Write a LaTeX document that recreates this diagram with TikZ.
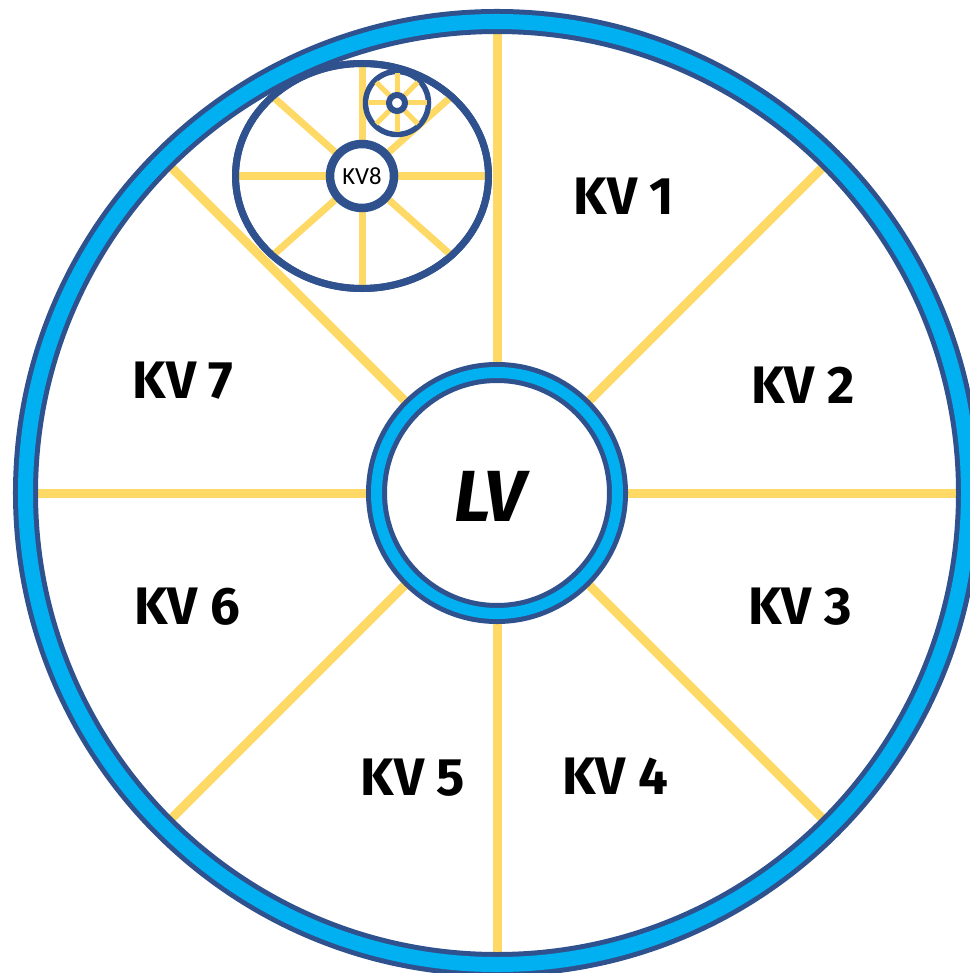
\documentclass[tikz,border=0pt]{standalone}
\usepackage{fontspec}
\setmainfont{Fira Sans}
\newfontfamily\smallfont{Carlito}
\usetikzlibrary{calc}
\definecolor{RingDark}{RGB}{47,82,143}
\definecolor{RingLight}{RGB}{0,176,240}
\definecolor{SpokeClr}{RGB}{255,217,102}

\begin{document}
\begin{tikzpicture}[x=0.01cm,y=-0.01cm,
  spoke/.style={SpokeClr,line width=0.9mm},
  midspoke/.style={SpokeClr,line width=0.7mm},
  tinyspoke/.style={SpokeClr,line width=0.5mm},
  kvlabel/.style={font=\bfseries\fontsize{15}{18}\selectfont}]
\useasboundingbox (0,0) rectangle (970,973);
\clip (0,0) rectangle (970,973);

\coordinate (O) at (497,493);
\coordinate (E) at (362,176);
\coordinate (S) at (397,103);

% spokes of the wheel
\foreach \a in {0,45,...,315}
  \draw[spoke] ($(O)+(\a:125)$) -- ($(O)+(\a:465)$);

% outer ring
\draw[RingDark,line width=2.5mm] (O) circle (471.5);
\draw[RingLight,line width=1.5mm] (O) circle (471.5);

% hub
\draw[RingDark,line width=2.1mm,fill=white] (O) circle (120.5);
\draw[RingLight,line width=1.1mm] (O) circle (120.5);
\node[font=\bfseries\itshape\fontsize{20.6}{24}\selectfont] (lv) at (490,496) {LV};

% zoomed wheel
\draw[RingDark,line width=0.7mm,fill=white] (E) ellipse [x radius=126.5,y radius=112.5];
\foreach \a in {0,45,...,315}
  \draw[midspoke] (E) -- ($(E)+({126.5*cos(\a)},{112.5*sin(\a)})$);
\draw[RingDark,line width=0.7mm] (E) ellipse [x radius=126.5,y radius=112.5];
\draw[RingDark,line width=0.85mm,fill=white] (E) circle (32);
\node[font=\smallfont\fontsize{7}{8}\selectfont] (kv8) at (E) {KV8};

% smallest wheel
\draw[RingDark,line width=0.55mm,fill=white] (S) circle (31.5);
\foreach \a in {0,45,...,315}
  \draw[tinyspoke] (S) -- ++(\a:29.5);
\draw[RingDark,line width=0.6mm,fill=white] (S) circle (8);

% labels
\node[kvlabel] (kv1) at (624,196) {KV 1};
\node[kvlabel] (kv2) at (803,385) {KV 2};
\node[kvlabel] (kv3) at (800,607) {KV 3};
\node[kvlabel] (kv4) at (615,776) {KV 4};
\node[kvlabel] (kv5) at (413,778) {KV 5};
\node[kvlabel] (kv6) at (187,607) {KV 6};
\node[kvlabel] (kv7) at (183,381) {KV 7};

\end{tikzpicture}
\end{document}
